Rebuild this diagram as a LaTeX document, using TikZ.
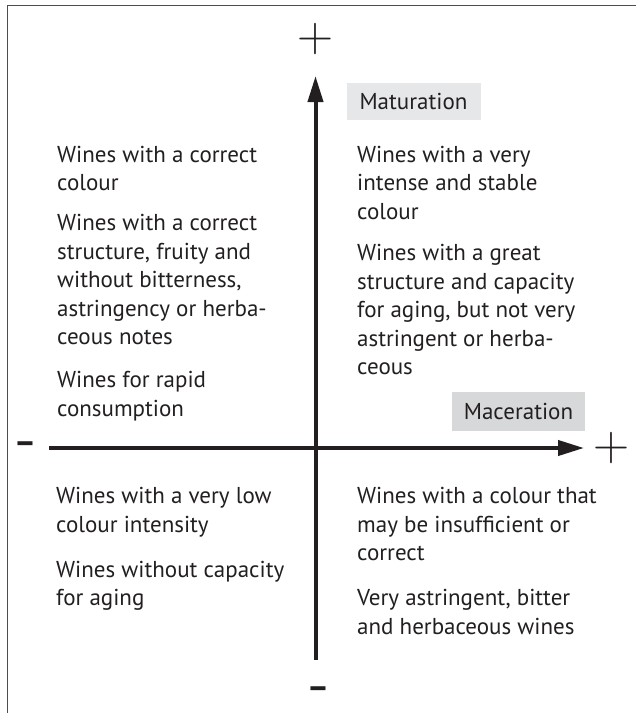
\documentclass[tikz,border=0pt]{standalone}
\usepackage{fontspec}
\newfontfamily\bodyfont{PT Sans}
\usetikzlibrary{arrows.meta}
\definecolor{ink}{HTML}{231F20}
\definecolor{matgray}{HTML}{E6E7E8}
\definecolor{macgray}{HTML}{D7D8D9}
\definecolor{framegray}{HTML}{4D4D4F}
\begin{document}
\begin{tikzpicture}[x=1pt,y=-1pt,
  txt/.style={anchor=base west, align=left, inner sep=0pt, text=ink,
    font=\bodyfont\fontsize{23}{28.5}\selectfont},
  tagbox/.style={fill=#1, text=ink, inner sep=0pt, minimum width=134pt, minimum height=37pt,
    font=\bodyfont\fontsize{23}{26}\selectfont},
  axis/.style={draw=ink, line width=4pt, -{Triangle[length=26pt,width=15pt]}},
  plussign/.style={text=ink, inner sep=0pt, font=\fontsize{50}{50}\selectfont},
  minussign/.style={text=ink, inner sep=0pt, font=\bodyfont\bfseries\fontsize{34}{34}\selectfont},
  frame/.style={draw=framegray, line width=1.5pt}]
\useasboundingbox (0,0) rectangle (636,713);
% frame
\coordinate (f1) at (7.5,713);
\coordinate (f2) at (7.5,5.5);
\coordinate (f3) at (636,5.5);
\draw[frame] (f1) -- (f2) -- (f3);
% axes
\coordinate (vb) at (315.5,660);
\coordinate (vt) at (315.5,76);
\coordinate (hl) at (49,448);
\coordinate (hr) at (584,448);
\draw[axis] (vb) -- (vt);
\draw[axis] (hl) -- (hr);
% signs
\node[plussign] (ptop) at (315.5,39) {+};
\node[plussign] (pright) at (611,448) {+};
\node[minussign] (mleft) at (25,448) {–};
\node[minussign] (mbot) at (318,693) {–};
% tags
\node[tagbox=matgray] (mat) at (413.5,101.5) {Maturation};
\node[tagbox=macgray, minimum width=133pt, minimum height=39pt] (mac) at (518.5,411.5) {Maceration};
% top left (anchored at the baseline of the last line)
\node[txt] (tl1) at (57,190.5) {Wines with a correct\\colour};
\node[txt] (tl2) at (57,344.5) {Wines with a correct\\structure, fruity and\\without bitterness,\\astringency or herba-\\ceous notes};
\node[txt] (tl3) at (57,416) {Wines for rapid\\consumption};
% top right
\node[txt] (tr1) at (357,219) {Wines with a very\\intense and stable\\colour};
\node[txt] (tr2) at (357,374.5) {Wines with a great\\structure and capacity\\for aging, but not very\\astringent or herba-\\ceous};
% bottom left
\node[txt] (bl1) at (56,532) {Wines with a very low\\colour intensity};
\node[txt] (bl2) at (56,605.5) {Wines without capacity\\for aging};
% bottom right
\node[txt] (br1) at (357,560.5) {Wines with a colour that\\may be insufficient or\\correct};
\node[txt] (br2) at (357,634) {Very astringent, bitter\\and herbaceous wines};
\end{tikzpicture}
\end{document}
